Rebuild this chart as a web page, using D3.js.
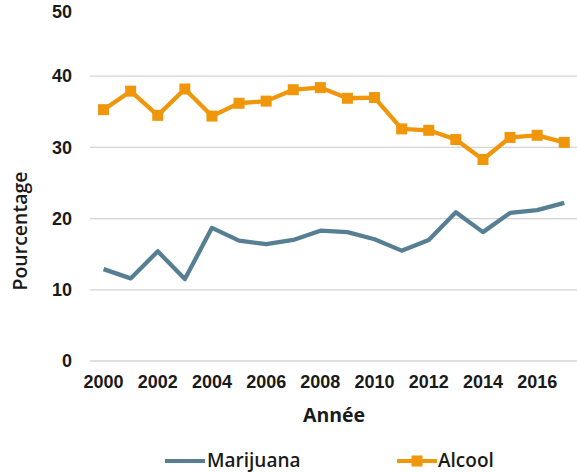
<!DOCTYPE html>
<html>
<head>
<meta charset="utf-8">
<script src="https://cdn.jsdelivr.net/npm/d3@7"></script>
<style>
  html, body { margin: 0; padding: 0; background: #fff; }
  svg { display: block; font-family: "Open Sans", sans-serif; }
  .tick text { font-weight: 700; font-size: 18px; fill: #1a1a1a; }
</style>
</head>
<body>
<svg id="chart" width="577" height="472"></svg>
<script>
// Survey years and percentages
const years = [2000, 2001, 2002, 2003, 2004, 2005, 2006, 2007, 2008,
               2009, 2010, 2011, 2012, 2013, 2014, 2015, 2016, 2017];
const marijuana = [12.9, 11.6, 15.4, 11.5, 18.7, 16.9, 16.4, 17.0, 18.3,
                   18.1, 17.1, 15.5, 17.0, 20.9, 18.1, 20.8, 21.2, 22.2];
const alcool = [35.3, 37.9, 34.5, 38.2, 34.4, 36.2, 36.5, 38.1, 38.4,
                36.9, 37.0, 32.6, 32.4, 31.1, 28.3, 31.4, 31.7, 30.7];
const yTicks = [0, 10, 20, 30, 40, 50];
const xTickYears = [2000, 2002, 2004, 2006, 2008, 2010, 2012, 2014, 2016];

const colors = { marijuana: "#577f93", alcool: "#f0960a" };

const svg = d3.select("#chart");
const margin = { left: 90, right: 0, top: 5, bottom: 111 };
const W = 577, H = 472;

const x = d3.scaleBand()
  .domain(years)
  .range([margin.left, margin.left + 18 * 27.1])
  .paddingInner(0).paddingOuter(0);

const y = d3.scaleLinear()
  .domain([0, 50])
  .range([H - margin.bottom, margin.top]);

// Horizontal gridlines
svg.append("g")
  .selectAll("line")
  .data(yTicks.filter(d => d < 50))
  .join("line")
  .attr("x1", margin.left)
  .attr("x2", W)
  .attr("y1", d => y(d))
  .attr("y2", d => y(d))
  .attr("stroke", "#d4d4d4")
  .attr("stroke-width", 1.3);

// Y axis labels
const yAxis = svg.append("g")
  .attr("transform", `translate(${margin.left - 18},0)`)
  .call(d3.axisLeft(y).tickValues(yTicks).tickSize(0).tickPadding(0));
yAxis.select(".domain").remove();
// keep the top label inside the frame
yAxis.selectAll(".tick").filter(d => d === 50).select("text").attr("y", 7);

// X axis labels
const xAxis = svg.append("g")
  .attr("transform", `translate(0,${y(0) + 14})`)
  .call(d3.axisBottom(x).tickValues(xTickYears).tickSize(0).tickPadding(0));
xAxis.select(".domain").remove();

// Axis titles
svg.append("text")
  .attr("x", 334)
  .attr("y", 422)
  .attr("text-anchor", "middle")
  .attr("font-size", 19.5)
  .attr("font-weight", 700)
  .attr("fill", "#1a1a1a")
  .text("Année");

svg.append("text")
  .attr("transform", "translate(27,231) rotate(-90)")
  .attr("text-anchor", "middle")
  .attr("font-size", 19.5)
  .attr("font-weight", 600)
  .attr("fill", "#1a1a1a")
  .text("Pourcentage");

const cx = d => x(d) + x.bandwidth() / 2;
const line = vals => d3.line()
  .x((d, i) => cx(years[i]))
  .y(d => y(d))(vals);

// Marijuana series
svg.append("path")
  .attr("d", line(marijuana))
  .attr("fill", "none")
  .attr("stroke", colors.marijuana)
  .attr("stroke-width", 4.3)
  .attr("stroke-linejoin", "round");

// Alcool series with square markers
svg.append("path")
  .attr("d", line(alcool))
  .attr("fill", "none")
  .attr("stroke", colors.alcool)
  .attr("stroke-width", 4.3)
  .attr("stroke-linejoin", "round");

const m = 11;
svg.append("g")
  .selectAll("rect")
  .data(alcool)
  .join("rect")
  .attr("x", (d, i) => cx(years[i]) - m / 2)
  .attr("y", d => y(d) - m / 2)
  .attr("width", m)
  .attr("height", m)
  .attr("fill", colors.alcool);

// Legend
const legend = svg.append("g").attr("font-size", 19).attr("font-weight", 600).attr("fill", "#1a1a1a");
const ly = 461;
legend.append("line")
  .attr("x1", 165).attr("x2", 205).attr("y1", ly).attr("y2", ly)
  .attr("stroke", colors.marijuana).attr("stroke-width", 4);
legend.append("text").attr("x", 207).attr("y", ly + 5.5).text("Marijuana");

legend.append("line")
  .attr("x1", 397).attr("x2", 437).attr("y1", ly).attr("y2", ly)
  .attr("stroke", colors.alcool).attr("stroke-width", 4);
legend.append("rect")
  .attr("x", 417 - m / 2).attr("y", ly - m / 2).attr("width", m).attr("height", m)
  .attr("fill", colors.alcool);
legend.append("text").attr("x", 438).attr("y", ly + 5.5).text("Alcool");
</script>
</body>
</html>
